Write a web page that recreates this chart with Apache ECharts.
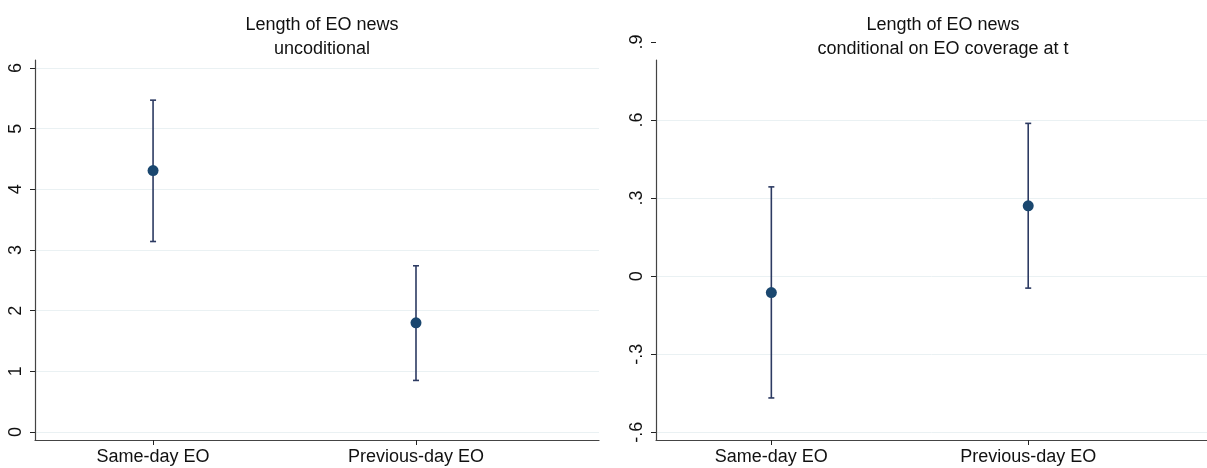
<!DOCTYPE html>
<html>
<head>
<meta charset="utf-8">
<script src="https://cdn.jsdelivr.net/npm/echarts@6/dist/echarts.min.js"></script>
<style>
  html, body { margin: 0; padding: 0; background: #fff; }
  #chart { width: 1207px; height: 468px; }
</style>
</head>
<body>
<div id="chart"></div>
<script>
// Categories on the horizontal axis (placed at x = 1 and x = 2)
const categories = ['Same-day EO', 'Previous-day EO'];
const catPos = [1, 2];

// Panel titles
const titleLeft = 'Length of EO news\nuncoditional';
const titleRight = 'Length of EO news\nconditional on EO coverage at t';

// Point estimates and 95% confidence bounds
const uncondEst = [4.31, 1.80];
const uncondLow = [3.14, 0.85];
const uncondHigh = [5.47, 2.74];

const condEst = [-0.063, 0.270];
const condLow = [-0.468, -0.046];
const condHigh = [0.343, 0.587];

// Tick labels
const yTicksLeft = [0, 1, 2, 3, 4, 5, 6];
const yTicksRight = [-0.6, -0.3, 0, 0.3, 0.6];
const yTickRightTop = [0.9];

const FONT = 'Liberation Sans, Arial, sans-serif';
const barColor = '#2c3a62';
const dotColor = '#1a476f';
const gridColor = '#eaf1f3';
const axisColor = '#444';

function stataNum(v) {
  const s = String(Math.round(v * 10) / 10);
  return s.replace(/^(-?)0\./, '$1.');
}

function toErr(low, high) {
  return catPos.map((x, i) => [x, low[i], high[i]]);
}
function toPts(est) {
  return catPos.map((x, i) => [x, est[i]]);
}

function errorBar(params, api) {
  const x = api.value(0);
  const lo = api.coord([x, api.value(1)]);
  const hi = api.coord([x, api.value(2)]);
  const cap = 3;
  const style = { stroke: barColor, lineWidth: 1.6 };
  return {
    type: 'group',
    children: [
      { type: 'line', shape: { x1: lo[0], y1: lo[1], x2: hi[0], y2: hi[1] }, style },
      { type: 'line', shape: { x1: lo[0] - cap, y1: lo[1], x2: lo[0] + cap, y2: lo[1] }, style },
      { type: 'line', shape: { x1: hi[0] - cap, y1: hi[1], x2: hi[0] + cap, y2: hi[1] }, style }
    ]
  };
}

function xAxisCfg(gridIndex, show) {
  return {
    type: 'value', gridIndex, min: 0.551, max: 2.696, show,
    axisLine: { show: true, onZero: false, lineStyle: { color: axisColor, width: 1.2 } },
    axisTick: { show: true, length: 5, customValues: catPos, lineStyle: { color: '#222' } },
    axisLabel: {
      customValues: catPos, margin: 8, fontFamily: FONT, fontSize: 18, color: '#111',
      formatter: v => categories[catPos.indexOf(Math.round(v))] || ''
    },
    splitLine: { show: false }
  };
}

function yAxisCfg(gridIndex, min, max, ticks, opts) {
  return Object.assign({
    type: 'value', gridIndex, min, max,
    axisLine: { show: true, onZero: false, lineStyle: { color: axisColor, width: 1.2 } },
    axisTick: { show: true, length: 5, customValues: ticks, lineStyle: { color: '#222' } },
    axisLabel: {
      customValues: ticks, rotate: 90, margin: 10, fontFamily: FONT, fontSize: 18, color: '#111',
      align: 'center', verticalAlign: 'bottom',
      formatter: stataNum
    },
    splitLine: { show: true, lineStyle: { color: gridColor, width: 1 } }
  }, opts || {});
}

const chart = echarts.init(document.getElementById('chart'));
chart.setOption({
  backgroundColor: '#fff',
  animation: false,
  title: [
    { text: titleLeft, left: 317, top: 8, textAlign: 'center',
      textStyle: { fontFamily: FONT, fontSize: 18, fontWeight: 'normal', color: '#111', lineHeight: 24 } },
    { text: titleRight, left: 938, top: 8, textAlign: 'center',
      textStyle: { fontFamily: FONT, fontSize: 18, fontWeight: 'normal', color: '#111', lineHeight: 24 } }
  ],
  grid: [
    { left: 35, top: 60, width: 564, height: 380 },
    { left: 656, top: 60, width: 564, height: 380 },
    { left: 656, top: 41.9, width: 564, height: 390.4 }
  ],
  xAxis: [
    xAxisCfg(0, true),
    xAxisCfg(1, true),
    xAxisCfg(2, false)
  ],
  yAxis: [
    yAxisCfg(0, -0.132, 6.132, yTicksLeft),
    yAxisCfg(1, -0.6296, 0.8305, yTicksRight),
    yAxisCfg(2, -0.6, 0.9, yTickRightTop, {
      axisLine: { show: false },
      splitLine: { show: false }
    })
  ],
  series: [
    { type: 'custom', xAxisIndex: 0, yAxisIndex: 0, renderItem: errorBar, data: toErr(uncondLow, uncondHigh), z: 2 },
    { type: 'scatter', xAxisIndex: 0, yAxisIndex: 0, symbolSize: 11, itemStyle: { color: dotColor, opacity: 1 }, data: toPts(uncondEst), z: 3 },
    { type: 'custom', xAxisIndex: 1, yAxisIndex: 1, renderItem: errorBar, data: toErr(condLow, condHigh), z: 2 },
    { type: 'scatter', xAxisIndex: 1, yAxisIndex: 1, symbolSize: 11, itemStyle: { color: dotColor, opacity: 1 }, data: toPts(condEst), z: 3 }
  ]
});
</script>
</body>
</html>
